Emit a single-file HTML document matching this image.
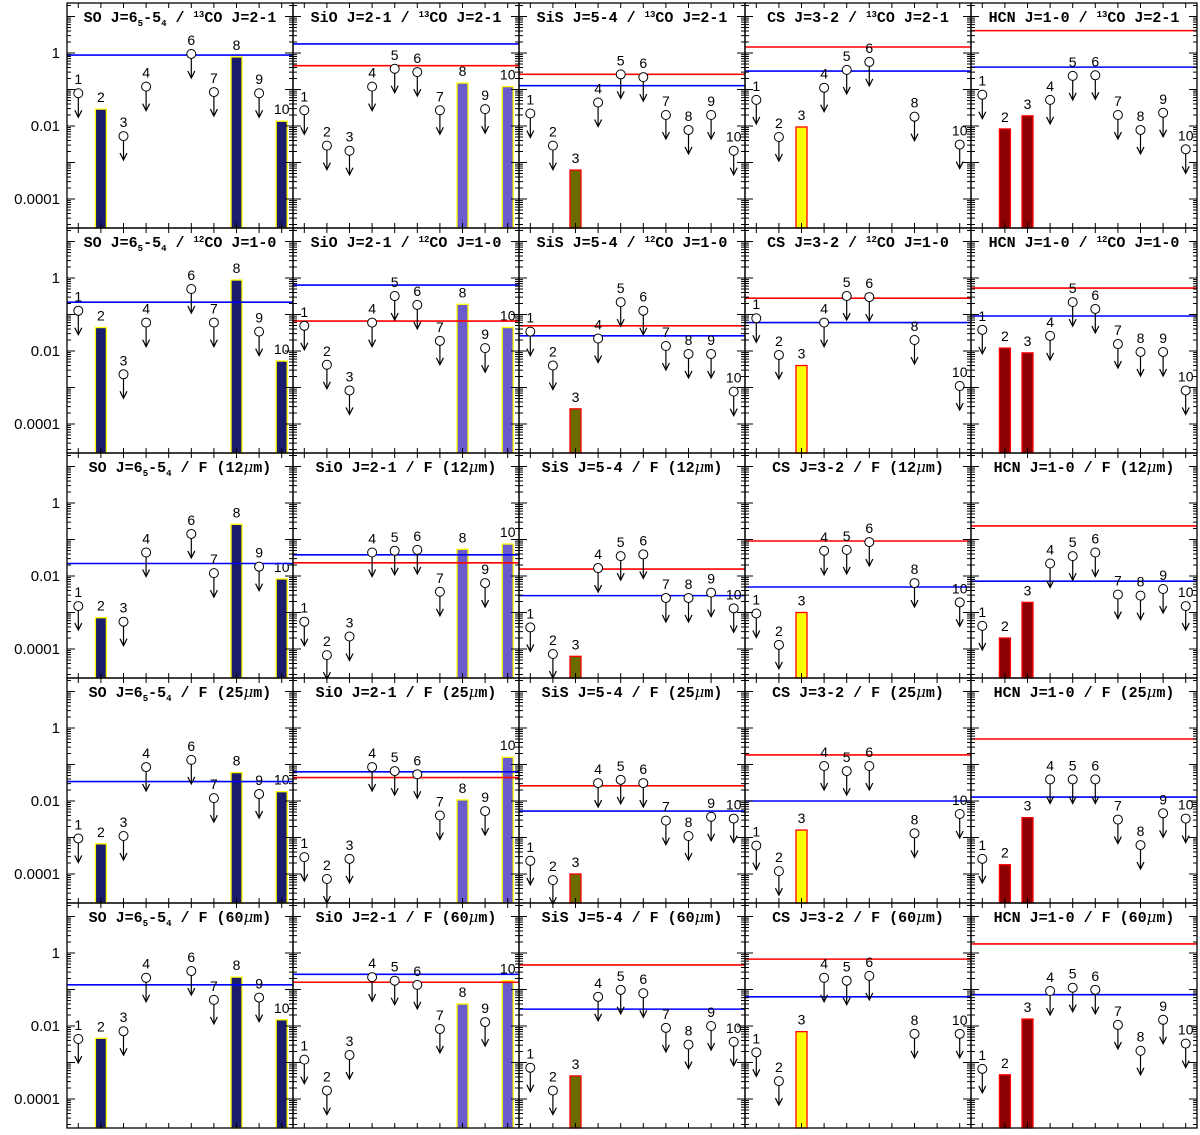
<!DOCTYPE html>
<html><head><meta charset="utf-8"><style>
html,body{margin:0;padding:0;background:#fff;}
svg{display:block;}
text{font-family:"Liberation Sans",sans-serif;}
.ttl{font-family:"Liberation Mono",monospace;font-weight:bold;font-size:15px;}
</style></head><body>
<svg id="chart" width="1200" height="1135" xmlns="http://www.w3.org/2000/svg"></svg>
<script>
// Source indices
const sources = [1,2,3,4,5,6,7,8,9,10];
const molecules = ["SO","SiO","SiS","CS","HCN"];
// which sources are detections (bars) per molecule
const barsSO = [2,8,10], barsSiO = [8,10], barsSiS = [3], barsCS = [3], barsHCN = [2,3];
// Row 1: / 13CO J=2-1
const r1SO  = [0.079,0.029,0.0053,0.12,null,0.94,0.085,0.78,0.079,0.0135];
const r1SiO = [0.027,0.0029,0.0021,0.12,0.37,0.30,0.027,0.15,0.029,0.12];
const r1SiS = [0.022,0.0029,0.00062,0.044,0.26,0.218,0.02,0.0078,0.02,0.0021];
const r1CS  = [0.052,0.005,0.0094,0.112,0.345,0.57,null,0.018,null,0.0031];
const r1HCN = [0.072,0.0083,0.019,0.052,0.236,0.245,0.02,0.0078,0.023,0.0023];
// Row 2: / 12CO J=1-0
const r2SO  = [0.127,0.044,0.0023,0.06,null,0.5,0.06,0.88,0.034,0.0053];
const r2SiO = [0.049,0.0042,0.00083,0.06,0.32,0.183,0.019,0.19,0.012,0.044];
const r2SiS = [0.034,0.004,0.00026,0.022,0.218,0.127,0.0137,0.0083,0.0083,0.00077];
const r2CS  = [0.079,0.0078,0.004,0.06,0.32,0.30,null,0.02,null,0.0011];
const r2HCN = [0.038,0.012,0.0089,0.026,0.218,0.142,0.0155,0.0094,0.0094,0.00083];
// Row 3: / F(12um)
const r3SO  = [0.0015,0.00072,0.00056,0.044,null,0.142,0.012,0.26,0.018,0.0083];
const r3SiO = [0.00056,0.000068,0.00022,0.044,0.049,0.052,0.0037,0.054,0.0064,0.075];
const r3SiS = [0.00039,0.000073,0.000063,0.0165,0.035,0.039,0.0025,0.0025,0.0035,0.0013];
const r3CS  = [0.00094,0.00013,0.001,0.049,0.052,0.085,null,0.0064,null,0.0019];
const r3HCN = [0.00043,0.0002,0.0019,0.022,0.035,0.044,0.0031,0.0029,0.0044,0.0015];
// Row 4: / F(25um)
const r4SO  = [0.00094,0.00067,0.0011,0.085,null,0.134,0.012,0.06,0.0155,0.018];
const r4SiO = [0.00029,0.000073,0.00026,0.085,0.066,0.054,0.004,0.0107,0.0053,0.158];
const r4SiS = [0.00023,0.000068,0.0001,0.031,0.038,0.031,0.0029,0.0011,0.0037,0.0033];
const r4CS  = [0.0006,0.00012,0.0016,0.091,0.066,0.091,null,0.0013,null,0.0044];
const r4HCN = [0.00026,0.00018,0.0035,0.039,0.039,0.039,0.0031,0.00062,0.0046,0.0033];
// Row 5: / F(60um)
const r5SO  = [0.0044,0.0046,0.0072,0.21,null,0.32,0.052,0.218,0.06,0.0148];
const r5SiO = [0.0012,0.00017,0.0016,0.218,0.174,0.134,0.0083,0.04,0.0128,0.174];
const r5SiS = [0.00072,0.00017,0.00043,0.063,0.098,0.079,0.0089,0.0031,0.01,0.0037];
const r5CS  = [0.0019,0.00031,0.007,0.21,0.174,0.236,null,0.0061,null,0.0061];
const r5HCN = [0.00067,0.00046,0.0155,0.091,0.112,0.098,0.0107,0.0021,0.0148,0.0033];
// Reference lines per row: [SO,SiO,SiS,CS,HCN]
const blueLines = [
  [0.88,1.77,0.127,0.32,0.41],
  [0.218,0.64,0.026,0.06,0.091],
  [0.022,0.038,0.0029,0.005,0.0072],
  [0.034,0.063,0.0053,0.01,0.0128],
  [0.134,0.26,0.029,0.063,0.072]];
const redLines = [
  [null,0.45,0.26,1.46,4.1],
  [null,0.066,0.049,0.28,0.53],
  [null,0.023,0.0155,0.091,0.236],
  [null,0.044,0.026,0.183,0.5],
  [null,0.158,0.47,0.68,1.77]];
const tickValues = [1,0.01,0.0001];
const tickLabels = ["1","0.01","0.0001"];

const rowData = [[r1SO,r1SiO,r1SiS,r1CS,r1HCN],[r2SO,r2SiO,r2SiS,r2CS,r2HCN],[r3SO,r3SiO,r3SiS,r3CS,r3HCN],[r4SO,r4SiO,r4SiS,r4CS,r4HCN],[r5SO,r5SiO,r5SiS,r5CS,r5HCN]];
const barSets = [barsSO,barsSiO,barsSiS,barsCS,barsHCN];
const molTitle = ["SO J=6<tspan font-size='9' dy='4'>5</tspan><tspan dy='-4'>-5</tspan><tspan font-size='9' dy='4'>4</tspan><tspan dy='-4'> / </tspan>",
  "SiO J=2-1 / ","SiS J=5-4 / ","CS J=3-2 / ","HCN J=1-0 / "];
const denTitle = ["<tspan font-size='9' dy='-5'>13</tspan><tspan dy='5'>CO J=2-1</tspan>",
  "<tspan font-size='9' dy='-5'>12</tspan><tspan dy='5'>CO J=1-0</tspan>",
  "F (12<tspan font-family='DejaVu Serif' font-style='italic' font-weight='normal'>μ</tspan>m)",
  "F (25<tspan font-family='DejaVu Serif' font-style='italic' font-weight='normal'>μ</tspan>m)",
  "F (60<tspan font-family='DejaVu Serif' font-style='italic' font-weight='normal'>μ</tspan>m)"];
const barFill = ["#1b1d6c","#6a5bcd","#6b6b00","#ffff00","#8b0000"];
const barEdge = ["#ffff00","#ffff00","#ff0000","#ff0000","#ff0000"];

const X0=67, PW=226, Y0=3, PH=225, DEC=36.5;
const NS="http://www.w3.org/2000/svg";
const svg=document.getElementById('chart');
function el(tag,attrs,parent){const e=document.createElementNS(NS,tag);for(const k in attrs)e.setAttribute(k,attrs[k]);(parent||svg).appendChild(e);return e;}
function xPos(c,i){return X0+c*PW+(i-0.5)*PW/10;}
function yPos(r,v){return Y0+r*PH+50-DEC*Math.log10(v);}

for(let r=0;r<5;r++){
  const top=Y0+r*PH, bot=top+PH;
  tickValues.forEach((tv,k)=>{
    const t=el('text',{x:60,y:yPos(r,tv)+5,'text-anchor':'end','font-size':15});
    
    
    t.textContent=tickLabels[k];
  });
  for(let c=0;c<5;c++){
    const left=X0+c*PW, right=left+PW;
    const g=el('g',{});
    
    
    const vals=rowData[r][c];
    barSets[c].forEach(i=>{
      const v=vals[i-1]; if(v==null) return;
      const yt=yPos(r,v);
      const b=el('rect',{x:xPos(c,i)-5.5,y:yt,width:11,height:bot-yt,fill:barFill[c],stroke:barEdge[c],'stroke-width':1.3},g);
      
      
      const lb=el('text',{x:xPos(c,i),y:yt-7,'text-anchor':'middle','font-size':14},g);
      
      
      lb.textContent=i;
    });
    const bl=blueLines[r][c];
    if(bl!=null){const l=el('line',{x1:left,x2:right,y1:yPos(r,bl),y2:yPos(r,bl),stroke:'#0000ff','stroke-width':1.6},g);
      
      }
    const rl=redLines[r][c];
    if(rl!=null){const l=el('line',{x1:left,x2:right,y1:yPos(r,rl),y2:yPos(r,rl),stroke:'#ff0000','stroke-width':1.6},g);
      
      }
    sources.forEach(i=>{
      if(barSets[c].includes(i)) return;
      const v=vals[i-1]; if(v==null) return;
      const x=xPos(c,i), y=yPos(r,v);
      const ug=el('g',{},g);
      
      
      el('line',{x1:x,x2:x,y1:y+4,y2:y+23,stroke:'#000','stroke-width':1.2},ug);
      el('path',{d:`M${x-3.5},${y+17} L${x},${y+24} L${x+3.5},${y+17}`,fill:'none',stroke:'#000','stroke-width':1.2},ug);
      el('circle',{cx:x,cy:y,r:4.5,fill:'#fff',stroke:'#000','stroke-width':1},ug);
      const lb=el('text',{x:x,y:y-9,'text-anchor':'middle','font-size':14},ug);
      lb.textContent=i;
    });
    let d='';
    for(let e=-6;e<=1;e++){
      for(let m=1;m<10;m++){
        const v=m*Math.pow(10,e); const y=yPos(r,v);
        if(y<top+1||y>bot-1) continue;
        const L=m===1?8:4;
        d+=`M${left},${y}h${L}M${right},${y}h${-L}`;
      }
    }
    sources.forEach(i=>{const x=xPos(c,i);d+=`M${x},${bot}v-5M${x},${top}v5`;});
    el('path',{d:d,stroke:'#000','stroke-width':1,fill:'none'},g);
    const fr=el('rect',{x:left,y:top,width:PW,height:PH,fill:'none',stroke:'#000','stroke-width':1.3},g);
    
    
    const t=el('text',{x:left+PW/2,y:top+19,'text-anchor':'middle',class:'ttl'},g);
    
    
    t.innerHTML=molTitle[c]+denTitle[r];
  }
}
</script>
</body></html>
